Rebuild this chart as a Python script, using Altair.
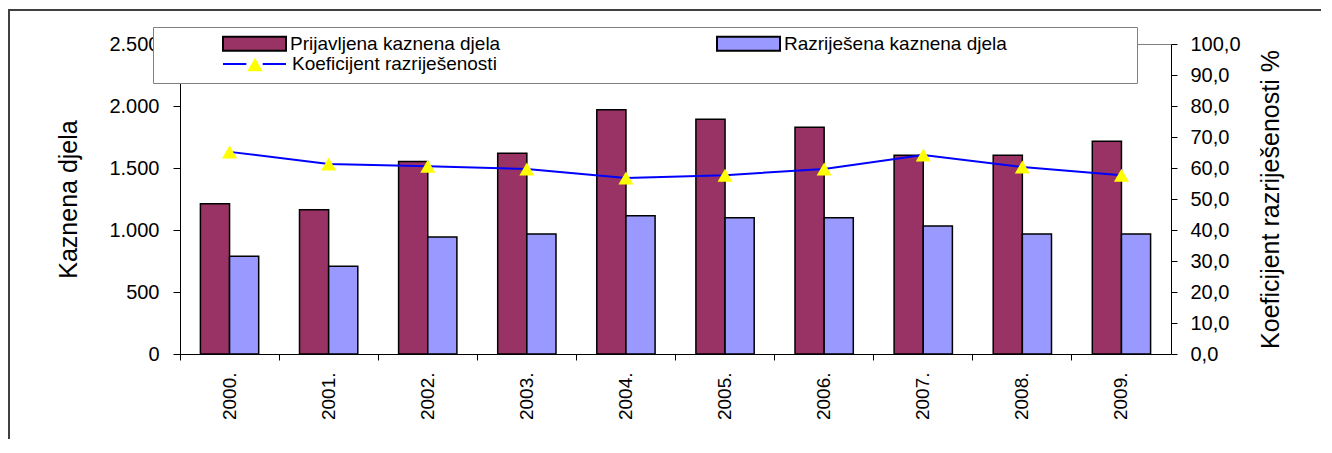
import altair as alt
import pandas as pd

years = ["2000.", "2001.", "2002.", "2003.", "2004.", "2005.", "2006.", "2007.", "2008.", "2009."]
prijavljena = [1211, 1163, 1553, 1618, 1970, 1894, 1829, 1602, 1602, 1715]
razrijesena = [789, 707, 943, 967, 1114, 1098, 1098, 1033, 967, 967]
koeficijent = [65.2, 61.3, 60.6, 59.7, 56.8, 57.7, 59.7, 64.2, 60.3, 57.7]
bar_series = ["Prijavljena kaznena djela", "Razriješena kaznena djela"]
line_series = "Koeficijent razriješenosti"
bar_colors = ["#993366", "#9999FF"]
left_ticks = [0, 500, 1000, 1500, 2000, 2500]
right_ticks = [0, 10, 20, 30, 40, 50, 60, 70, 80, 90, 100]

bar_df = pd.DataFrame(
    [{"year": y, "series": bar_series[0], "value": v} for y, v in zip(years, prijavljena)]
    + [{"year": y, "series": bar_series[1], "value": v} for y, v in zip(years, razrijesena)]
)
coef_df = pd.DataFrame({"year": years, "koef": koeficijent, "kser": [line_series] * len(years)})
frame_df = pd.DataFrame({"k": [0]})

FONT = "Liberation Sans"

rect_path = "M-1,-0.222H1V0.222H-1Z"
line_path = "M-1,0H-0.26M0.26,0H1"
# tiny invisible spacer title that sets the width of the legend box
spacer = "0" * 1743

x_enc = alt.X(
    "year:N", sort=years,
    scale=alt.Scale(paddingInner=0, paddingOuter=0),
    axis=alt.Axis(
        title=None, labelAngle=270, labelFontSize=19, labelFont=FONT, labelColor="black",
        labelPadding=12, tickSize=6, tickColor="black", domainColor="black",
        bandPosition=0, grid=False,
    ),
)

frame = alt.Chart(frame_df).mark_rect(
    fill="transparent", stroke="#404040", strokeWidth=2
).encode(
    x=alt.value(-171), x2=alt.value(1400), y=alt.value(-34), y2=alt.value(600)
)

bars = alt.Chart(bar_df).mark_bar(stroke="black", strokeWidth=1.5).encode(
    x=x_enc,
    xOffset=alt.XOffset("series:N", sort=bar_series,
                        scale=alt.Scale(paddingInner=0, paddingOuter=0.7)),
    y=alt.Y(
        "value:Q",
        scale=alt.Scale(domain=[0, 2500], nice=False),
        axis=alt.Axis(
            values=left_ticks,
            labelExpr="replace(format(datum.value, ',d'), ',', '.')",
            title="Kaznena djela", titleFontSize=25, titleFontWeight="normal",
            titleFont=FONT, titleColor="black", titlePadding=27,
            labelFontSize=20, labelFont=FONT, labelColor="black", labelPadding=14,
            tickSize=7, tickColor="black", domainColor="black", grid=False,
        ),
    ),
    fill=alt.Fill(
        "series:N",
        scale=alt.Scale(domain=bar_series, range=bar_colors),
        legend=alt.Legend(
            title=spacer, titleOrient="bottom", titleAnchor="start", titleFontSize=1,
            titleFont=FONT, titleFontWeight="normal", titleColor="white",
            titlePadding=21, titleLimit=5000,
            orient="none", legendX=-27, legendY=-17, columns=2,
            fillColor="white", strokeColor="#808080", padding=7,
            symbolType=rect_path, symbolSize=3969, symbolStrokeWidth=2,
            symbolOffset=62, labelOffset=3,
            clipHeight=19, rowPadding=1, columnPadding=153, labelLimit=1000,
            labelFont=FONT, labelFontSize=19, labelColor="black",
        ),
    ),
)

y_right = alt.Y(
    "koef:Q",
    scale=alt.Scale(domain=[0, 100], nice=False),
    axis=alt.Axis(
        orient="right", values=right_ticks,
        labelExpr="replace(format(datum.value, '.1f'), '.', ',')",
        title="Koeficijent razriješenosti %", titleFontSize=25, titleFontWeight="normal",
        titleFont=FONT, titleColor="black", titlePadding=18, titleAngle=270,
        titleBaseline="top",
        labelFontSize=20, labelFont=FONT, labelColor="black", labelPadding=13,
        tickSize=6, tickColor="black", domainColor="black", grid=False,
    ),
)

line = alt.Chart(coef_df).mark_line(strokeWidth=2).encode(
    x=alt.X("year:N", sort=years), y=y_right,
    color=alt.Color(
        "kser:N",
        scale=alt.Scale(domain=[line_series], range=["#0000FF"]),
        legend=alt.Legend(
            title=None, orient="none", legendX=42, legendY=10.5, padding=0,
            symbolType=line_path, symbolSize=3969, symbolStrokeWidth=2,
            symbolOffset=0, labelOffset=5,
            clipHeight=19, labelLimit=1000,
            labelFont=FONT, labelFontSize=19, labelColor="black",
        ),
    ),
)
points = alt.Chart(coef_df).transform_calculate(marker="'marker'").mark_point(
    shape="triangle-up", filled=True, fill="#FFFF00", size=225, strokeWidth=0
).encode(
    x=alt.X("year:N", sort=years), y=y_right,
    opacity=alt.Opacity(
        "marker:N",
        scale=alt.Scale(domain=["marker"], range=[1]),
        legend=alt.Legend(
            title=None, orient="none", legendX=67, legendY=11, padding=0,
            symbolType="triangle-up", symbolSize=240, symbolStrokeWidth=0,
            symbolFillColor="#FFFF00", symbolOffset=0, labelOffset=0,
            clipHeight=19, labelExpr="''", labelFontSize=1,
        ),
    ),
)

right_layer = alt.layer(line, points)

chart = alt.layer(frame, bars, right_layer).resolve_scale(y="independent").properties(
    width=991, height=310,
    padding={"left": 172, "top": 36, "right": 150, "bottom": 85},
    autosize=alt.AutoSizeParams(type="none"),
).configure(font=FONT).configure_view(stroke="#808080", strokeWidth=1)

chart.save("out.html", embed_options={"renderer": "svg", "actions": False})
